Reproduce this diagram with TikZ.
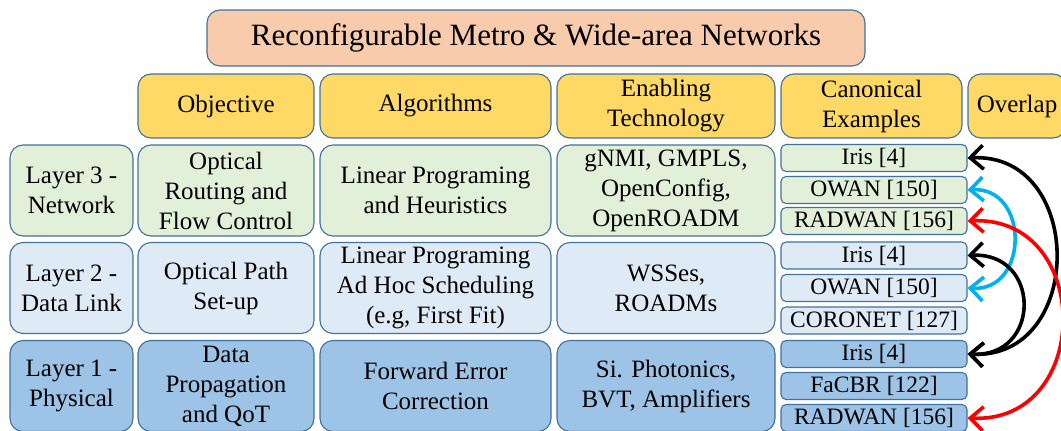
\documentclass[tikz,border=0pt]{standalone}
\usepackage{fontspec}
\setmainfont{Liberation Serif}
\usetikzlibrary{arrows.meta}

\definecolor{edgecol}{HTML}{41719C}
\definecolor{titlecol}{HTML}{F8CBAD}
\definecolor{headcol}{HTML}{FFD966}
\definecolor{lthree}{HTML}{E2F0D9}
\definecolor{ltwo}{HTML}{DEEBF7}
\definecolor{lone}{HTML}{9DC3E6}
\definecolor{owancol}{HTML}{00B0F0}

\begin{document}
\begin{tikzpicture}[x=1pt, y=-1pt, line width=1.1pt,
    box/.style={draw=edgecol, rounded corners=13pt, align=center, inner sep=0pt,
        font=\fontsize{25}{30}\selectfont},
    exbox/.style={box, rounded corners=5pt, minimum width=186pt, minimum height=27pt,
        font=\fontsize{23.5}{27}\selectfont},
    olap/.style={line width=3.6pt, {Straight Barb[length=13pt,width=24pt]}-{Straight Barb[length=13pt,width=24pt]}}]
\useasboundingbox (0,0) rectangle (1061,431);

%title and column heads
\node[box, fill=titlecol, minimum width=658pt, minimum height=56pt,
    font=\fontsize{31}{36}\selectfont] (title) at (536,38) {Reconfigurable Metro \& Wide-area Networks};
\node[box, fill=headcol, minimum width=176pt, minimum height=64pt] (hobj) at (226,106) {Objective};
\node[box, fill=headcol, minimum width=231pt, minimum height=64pt] (halg) at (435.5,106) {Algorithms};
\node[box, fill=headcol, minimum width=218pt, minimum height=64pt] (htech) at (666,106) {Enabling\\Technology};
\node[box, fill=headcol, minimum width=181pt, minimum height=64pt] (hcan) at (871.5,106) {Canonical\\Examples};
\node[box, fill=headcol, minimum width=98pt, minimum height=64pt] (hover) at (1017,106) {Overlap};

%layers
\foreach \row/\yy/\col/\lay/\obj/\alg/\tech in {
    3/190.5/lthree/{Layer 3 -\\Network}/{Optical\\Routing and\\Flow Control}/{Linear Programing\\and Heuristics}/{gNMI, GMPLS,\\OpenConfig,\\OpenROADM},
    2/288/ltwo/{Layer 2 -\\Data Link}/{Optical Path\\Set-up}/{Linear Programing\\Ad Hoc Scheduling\\(e.g, First Fit)}/{WSSes,\\ROADMs},
    1/386/lone/{Layer 1 -\\Physical}/{Data\\Propagation\\and QoT}/{Forward Error\\Correction}/{Si. Photonics,\\BVT, Amplifiers}}
{
    \node[box, fill=\col, minimum width=123pt, minimum height=91pt] (lay\row) at (71.5,\yy) {\lay};
    \node[box, fill=\col, minimum width=176pt, minimum height=91pt] (obj\row) at (226,\yy) {\obj};
    \node[box, fill=\col, minimum width=231pt, minimum height=91pt] (alg\row) at (435.5,\yy) {\alg};
    \node[box, fill=\col, minimum width=218pt, minimum height=91pt] (tech\row) at (666,\yy) {\tech};
}

%canonical examples
\foreach \nm/\yy/\col/\txt in {iris3/158/lthree/{Iris [4]}, owan3/190/lthree/{OWAN [150]},
    radwan3/221/lthree/{RADWAN [156]}, iris2/255.5/ltwo/{Iris [4]}, owan2/288/ltwo/{OWAN [150]},
    coronet2/320.5/ltwo/{CORONET [127]}, iris1/354/lone/{Iris [4]}, facbr1/386/lone/{FaCBR [122]},
    radwan1/418/lone/{RADWAN [156]}}
    \node[exbox, fill=\col] (\nm) at (874,\yy) {\txt};

%overlap arrows
\draw[olap] (iris3.east) .. controls +(118,-6) and +(118,6) .. (iris1.east);
\draw[olap, color=owancol] (owan3.east) .. controls +(62,-4) and +(62,4) .. (owan2.east);
\draw[olap] (iris2.east) .. controls +(74,-4) and +(74,4) .. (iris1.east);
\draw[olap, color=red] (radwan3.east) .. controls +(126,-6) and +(126,6) .. (radwan1.east);
\end{tikzpicture}
\end{document}
